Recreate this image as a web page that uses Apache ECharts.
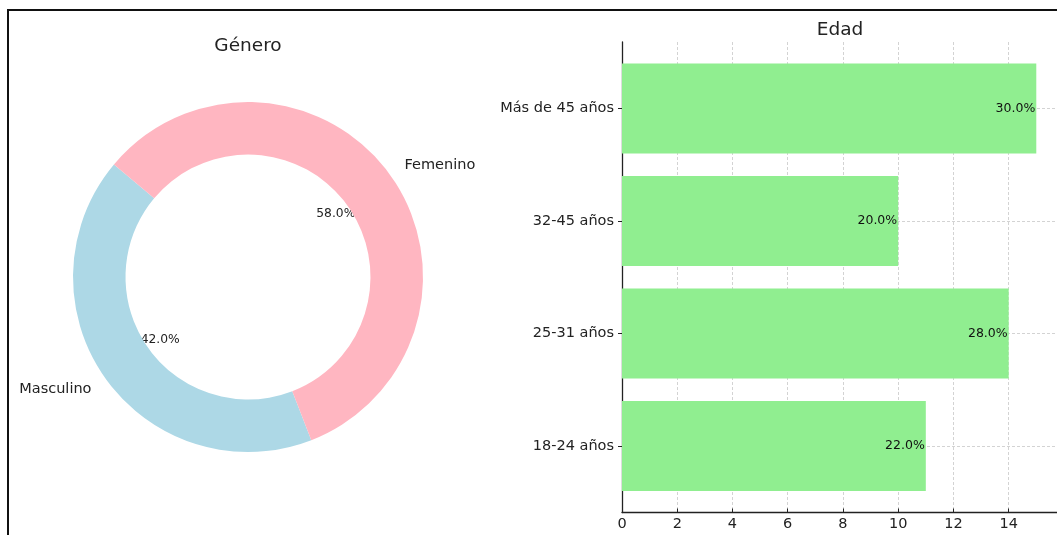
<!DOCTYPE html>
<html>
<head>
<meta charset="utf-8">
<script src="https://cdn.jsdelivr.net/npm/echarts@6/dist/echarts.min.js"></script>
<style>
  html, body { margin: 0; padding: 0; background: #fff; }
  #main { width: 1057px; height: 535px; position: relative; }
  #frame {
    position: absolute; left: 7px; top: 9px; width: 1200px; height: 700px;
    border-left: 2px solid #111; border-top: 2px solid #111; pointer-events: none;
  }
</style>
</head>
<body>
<div id="main"></div>
<div id="frame"></div>
<script>
// datos género
const generoNombres = ['Masculino', 'Femenino'];
const generoValores = [42, 58];
const generoColores = ['#ADD8E6', '#FFB6C1'];

// datos edad (de abajo hacia arriba)
const edadCategorias = ['18-24 años', '25-31 años', '32-45 años', 'Más de 45 años'];
const edadValores = [11, 14, 10, 15];
const edadTicks = [0, 2, 4, 6, 8, 10, 12, 14];

const FONT = 'DejaVu Sans';
const total = edadValores.reduce((a, b) => a + b, 0);

const chart = echarts.init(document.getElementById('main'));

const pieData = generoNombres.map((n, i) => ({
  name: n, value: generoValores[i], itemStyle: { color: generoColores[i] }
}));

let options = {
  animation: false,
  textStyle: { fontFamily: FONT },
  title: [
    { text: 'Género', left: 248, top: 36.5, padding: 0, textAlign: 'center',
      textStyle: { fontFamily: FONT, fontSize: 18.5, fontWeight: 'normal', color: '#222' } },
    { text: 'Edad', left: 840, top: 21, padding: 0, textAlign: 'center',
      textStyle: { fontFamily: FONT, fontSize: 18.5, fontWeight: 'normal', color: '#222' } }
  ],
  grid: [
    // marco del eje (incluye margenes)
    { left: 622, top: 42, width: 437, height: 470.5 },
    // zona de barras
    { left: 622, top: 52.25, width: 437, height: 450 }
  ],
  xAxis: [
    {
      type: 'value', gridIndex: 0, min: 0, max: 15.75,
      axisLine: { show: true, onZero: false, lineStyle: { color: '#222', width: 1.3 } },
      axisTick: { show: true, inside: true, length: 4, lineStyle: { color: '#222' }, customValues: edadTicks },
      axisLabel: { fontFamily: FONT, fontSize: 14.5, color: '#222', margin: 4, customValues: edadTicks },
      splitLine: { show: true, lineStyle: { color: '#c8c8c8', width: 0.8, type: [3, 2] } }
    },
    { type: 'value', gridIndex: 1, min: 0, max: 15.75, show: false }
  ],
  yAxis: [
    {
      type: 'value', gridIndex: 0, min: -0.59, max: 3.59,
      axisLine: { show: true, onZero: false, lineStyle: { color: '#222', width: 1.3 } },
      axisTick: { show: true, length: 4, lineStyle: { color: '#222' }, customValues: [0, 1, 2, 3] },
      axisLabel: { fontFamily: FONT, fontSize: 14.5, color: '#222', margin: 8,
        customValues: [0, 1, 2, 3],
        formatter: v => edadCategorias[Math.round(v)] },
      splitLine: { show: true, lineStyle: { color: '#c8c8c8', width: 0.8, type: [3, 2] } }
    },
    { type: 'category', gridIndex: 1, data: edadCategorias, show: false }
  ],
  series: [
    {
      // porcentajes internos (sectores invisibles)
      type: 'pie', center: [248, 277], radius: [0, 210],
      startAngle: 140, clockwise: false, silent: true, z: 1,
      itemStyle: { color: 'rgba(0,0,0,0)' },
      label: { show: true, position: 'inside', fontFamily: FONT, fontSize: 12.3, color: '#222',
        formatter: p => p.percent.toFixed(1) + '%' },
      labelLine: { show: false },
      emphasis: { disabled: true },
      data: generoNombres.map((n, i) => ({ name: n, value: generoValores[i] }))
    },
    {
      type: 'pie', center: [248, 277], radius: [122.5, 175],
      startAngle: 140, clockwise: false, avoidLabelOverlap: false, silent: true, z: 2,
      label: { show: true, position: 'outside', fontFamily: FONT, fontSize: 14.5, color: '#222',
        distanceToLabelLine: 0 },
      labelLine: { show: false, length: 17.5, length2: 0 },
      emphasis: { disabled: true },
      data: pieData
    },
    {
      type: 'bar', xAxisIndex: 1, yAxisIndex: 1, barWidth: 90, silent: true,
      itemStyle: { color: '#90EE90' },
      label: { show: true, position: 'insideRight', distance: 1, fontFamily: FONT, fontSize: 12.5,
        color: '#111', formatter: p => (p.value / total * 100).toFixed(1) + '%' },
      data: edadValores
    }
  ]
};

chart.setOption(options);
</script>
</body>
</html>
